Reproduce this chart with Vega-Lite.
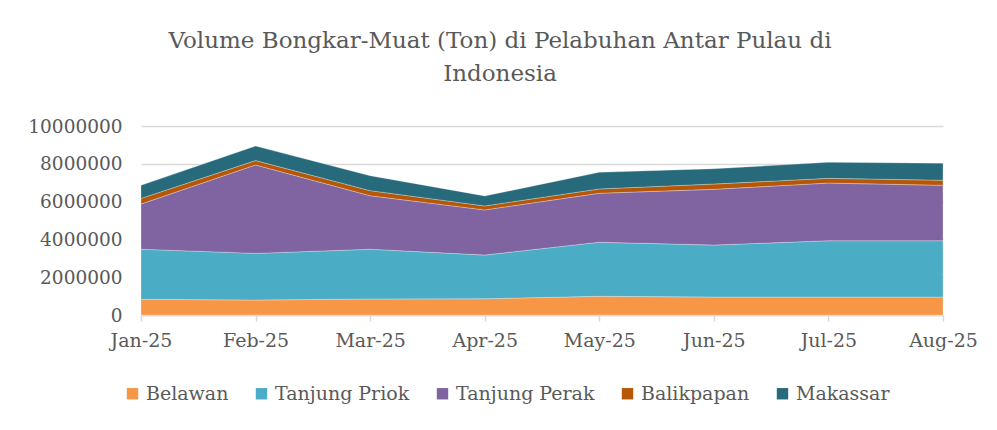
{
  "$schema": "https://vega.github.io/schema/vega-lite/v6.json",
  "width": 802,
  "height": 189,
  "autosize": {"type": "none"},
  "padding": {"left": 141, "top": 126, "right": 54, "bottom": 115},
  "background": "#ffffff",
  "title": {
    "text": ["Volume Bongkar-Muat (Ton) di Pelabuhan Antar Pulau di", "Indonesia"],
    "font": "DejaVu Serif",
    "fontSize": 23,
    "fontWeight": "normal",
    "color": "#595959",
    "anchor": "middle",
    "dx": -42,
    "lineHeight": 33,
    "offset": 31
  },
  "data": {
    "values": [
      {"month": "Jan-25", "series": "Belawan", "idx": 1, "value": 830000},
      {"month": "Jan-25", "series": "Tanjung Priok", "idx": 2, "value": 2650000},
      {"month": "Jan-25", "series": "Tanjung Perak", "idx": 3, "value": 2390000},
      {"month": "Jan-25", "series": "Balikpapan", "idx": 4, "value": 300000},
      {"month": "Jan-25", "series": "Makassar", "idx": 5, "value": 690000},
      {"month": "Feb-25", "series": "Belawan", "idx": 1, "value": 790000},
      {"month": "Feb-25", "series": "Tanjung Priok", "idx": 2, "value": 2470000},
      {"month": "Feb-25", "series": "Tanjung Perak", "idx": 3, "value": 4680000},
      {"month": "Feb-25", "series": "Balikpapan", "idx": 4, "value": 230000},
      {"month": "Feb-25", "series": "Makassar", "idx": 5, "value": 770000},
      {"month": "Mar-25", "series": "Belawan", "idx": 1, "value": 850000},
      {"month": "Mar-25", "series": "Tanjung Priok", "idx": 2, "value": 2630000},
      {"month": "Mar-25", "series": "Tanjung Perak", "idx": 3, "value": 2830000},
      {"month": "Mar-25", "series": "Balikpapan", "idx": 4, "value": 270000},
      {"month": "Mar-25", "series": "Makassar", "idx": 5, "value": 790000},
      {"month": "Apr-25", "series": "Belawan", "idx": 1, "value": 860000},
      {"month": "Apr-25", "series": "Tanjung Priok", "idx": 2, "value": 2310000},
      {"month": "Apr-25", "series": "Tanjung Perak", "idx": 3, "value": 2390000},
      {"month": "Apr-25", "series": "Balikpapan", "idx": 4, "value": 210000},
      {"month": "Apr-25", "series": "Makassar", "idx": 5, "value": 530000},
      {"month": "May-25", "series": "Belawan", "idx": 1, "value": 990000},
      {"month": "May-25", "series": "Tanjung Priok", "idx": 2, "value": 2860000},
      {"month": "May-25", "series": "Tanjung Perak", "idx": 3, "value": 2590000},
      {"month": "May-25", "series": "Balikpapan", "idx": 4, "value": 230000},
      {"month": "May-25", "series": "Makassar", "idx": 5, "value": 880000},
      {"month": "Jun-25", "series": "Belawan", "idx": 1, "value": 950000},
      {"month": "Jun-25", "series": "Tanjung Priok", "idx": 2, "value": 2750000},
      {"month": "Jun-25", "series": "Tanjung Perak", "idx": 3, "value": 2950000},
      {"month": "Jun-25", "series": "Balikpapan", "idx": 4, "value": 280000},
      {"month": "Jun-25", "series": "Makassar", "idx": 5, "value": 810000},
      {"month": "Jul-25", "series": "Belawan", "idx": 1, "value": 950000},
      {"month": "Jul-25", "series": "Tanjung Priok", "idx": 2, "value": 2980000},
      {"month": "Jul-25", "series": "Tanjung Perak", "idx": 3, "value": 3050000},
      {"month": "Jul-25", "series": "Balikpapan", "idx": 4, "value": 250000},
      {"month": "Jul-25", "series": "Makassar", "idx": 5, "value": 850000},
      {"month": "Aug-25", "series": "Belawan", "idx": 1, "value": 950000},
      {"month": "Aug-25", "series": "Tanjung Priok", "idx": 2, "value": 2980000},
      {"month": "Aug-25", "series": "Tanjung Perak", "idx": 3, "value": 2930000},
      {"month": "Aug-25", "series": "Balikpapan", "idx": 4, "value": 270000},
      {"month": "Aug-25", "series": "Makassar", "idx": 5, "value": 900000}
    ]
  },
  "mark": {"type": "area", "stroke": "#ffffff", "strokeWidth": 0.8, "strokeOpacity": 0.35, "opacity": 1},
  "encoding": {
    "x": {
      "field": "month",
      "type": "ordinal",
      "sort": ["Jan-25", "Feb-25", "Mar-25", "Apr-25", "May-25", "Jun-25", "Jul-25", "Aug-25"],
      "scale": {"type": "point", "padding": 0},
      "axis": {
        "title": null,
        "labelAngle": 0,
        "labelFont": "DejaVu Serif",
        "labelFontSize": 19,
        "labelColor": "#595959",
        "labelPadding": 10,
        "domainColor": "#D9D9D9",
        "domainWidth": 1.5,
        "tickColor": "#D9D9D9",
        "tickSize": 6,
        "tickWidth": 1.5,
        "grid": false
      }
    },
    "y": {
      "field": "value",
      "type": "quantitative",
      "stack": "zero",
      "scale": {"domain": [0, 10000000], "nice": false},
      "axis": {
        "title": null,
        "values": [0, 2000000, 4000000, 6000000, 8000000, 10000000],
        "format": "d",
        "labelFont": "DejaVu Serif",
        "labelFontSize": 18.5,
        "labelColor": "#595959",
        "labelPadding": 19,
        "ticks": false,
        "domain": false,
        "grid": true,
        "gridColor": "#D9D9D9",
        "gridWidth": 1.5
      }
    },
    "color": {
      "field": "series",
      "type": "nominal",
      "scale": {
        "domain": ["Belawan", "Tanjung Priok", "Tanjung Perak", "Balikpapan", "Makassar"],
        "range": ["#F79646", "#4BACC6", "#8064A2", "#B65708", "#276A7C"]
      },
      "legend": {
        "title": null,
        "orient": "none",
        "legendX": -18,
        "legendY": 258,
        "direction": "horizontal",
        "columns": 5,
        "columnPadding": 23,
        "symbolType": "square",
        "symbolSize": 130,
        "symbolStrokeWidth": 0,
        "labelFont": "DejaVu Serif",
        "labelFontSize": 19,
        "labelColor": "#595959",
        "labelOffset": 4
      }
    },
    "order": {"field": "idx", "type": "quantitative", "sort": "ascending"}
  },
  "config": {"view": {"stroke": null}}
}
